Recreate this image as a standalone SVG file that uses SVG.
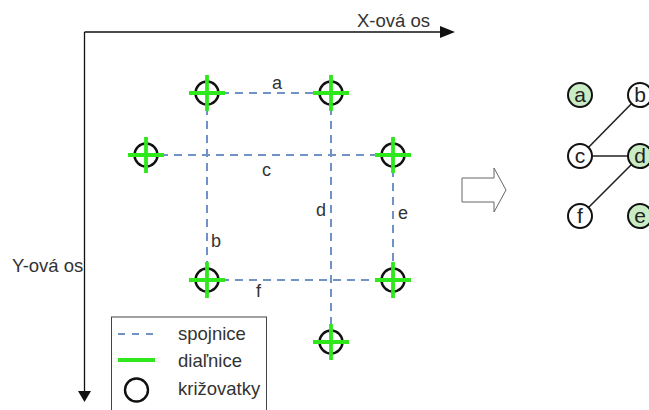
<svg xmlns="http://www.w3.org/2000/svg" width="649" height="410" viewBox="0 0 649 410">
  <style>
    .txt { font-family: "Liberation Sans", Arial, sans-serif; fill: #333; }
    .axis { stroke: #111; stroke-width: 1.3; fill: none; }
    .link { stroke: #7093c6; stroke-width: 2; stroke-dasharray: 8 6; fill: none; }
    .ring { fill: none; stroke: #111; stroke-width: 2.4; }
    .hwy { stroke: #2ee81c; stroke-width: 3.8; fill: none; }
    .gnode { stroke: #111; stroke-width: 2; fill: #fff; }
    .gnode.on { fill: #c9ecc4; }
    .gedge { stroke: #222; stroke-width: 1.6; fill: none; }
    .glabel { font-family: "Liberation Sans", Arial, sans-serif; font-size: 21px; fill: #222; text-anchor: middle; }
  </style>
  <defs>
    <g id="junction">
      <circle r="11.5" class="ring"/>
      <path d="M-18 0H18M0 -18V18" class="hwy"/>
    </g>
  </defs>

  <rect width="649" height="410" fill="#fff"/>

  <!-- axes -->
  <g id="axes">
    <path d="M84.5 32V392M84.5 32H441" class="axis"/>
    <polygon points="440,26 455,32 440,38" fill="#111"/>
    <polygon points="78,391 91,391 84.5,402" fill="#111"/>
    <text class="txt" x="357" y="27" font-size="18.5">X-ová os</text>
    <text class="txt" x="12" y="272" font-size="18.5">Y-ová os</text>
  </g>

  <!-- connecting roads -->
  <g id="connectors">
    <path d="M207 93H331" class="link"/>
    <path d="M207 93V280" class="link"/>
    <path d="M146 155H393" class="link"/>
    <path d="M331 93V342" class="link"/>
    <path d="M393 155V280" class="link"/>
    <path d="M207 280H393" class="link"/>
  </g>

  <!-- road labels -->
  <g id="road-labels" class="txt" font-size="18">
    <text x="272" y="89">a</text>
    <text x="211" y="247">b</text>
    <text x="262" y="176">c</text>
    <text x="316" y="216">d</text>
    <text x="398" y="219">e</text>
    <text x="256" y="297">f</text>
  </g>

  <!-- junctions -->
  <g id="j1"><use href="#junction" x="207" y="93"/></g>
  <g id="j2"><use href="#junction" x="331" y="93"/></g>
  <g id="j3"><use href="#junction" x="146" y="155"/></g>
  <g id="j4"><use href="#junction" x="393" y="155"/></g>
  <g id="j5"><use href="#junction" x="207" y="280"/></g>
  <g id="j6"><use href="#junction" x="393" y="280"/></g>
  <g id="j7"><use href="#junction" x="331" y="342"/></g>

  <!-- legend -->
  <g id="legend">
    <rect x="111.5" y="317" width="155" height="100" fill="#fff" stroke="#444" stroke-width="1"/>
    <path d="M118 334H156" stroke="#7093c6" stroke-width="2" stroke-dasharray="7 7"/>
    <path d="M118 360H155" stroke="#2ee81c" stroke-width="4"/>
    <circle cx="136.5" cy="390" r="11.5" class="ring"/>
    <text class="txt" x="178" y="340" font-size="18.5">spojnice</text>
    <text class="txt" x="178" y="367" font-size="18.5">diaľnice</text>
    <text class="txt" x="178" y="395" font-size="18.5">križovatky</text>
  </g>

  <!-- transform arrow -->
  <g id="transform-arrow">
    <polygon points="462,178 494,178 494,168 506,190 494,212 494,202 462,202" fill="#fff" stroke="#666" stroke-width="1"/>
  </g>

  <!-- conflict graph -->
  <g id="graph-edges">
    <path d="M580 156L640 95" class="gedge"/>
    <path d="M580 156H640" class="gedge" stroke-width="3" stroke="#444"/>
    <path d="M580 216L640 156" class="gedge"/>
  </g>
  <g id="ga"><circle cx="580" cy="95" r="12" class="gnode on"/><text class="glabel" x="580" y="102">a</text></g>
  <g id="gb"><circle cx="640" cy="95" r="12" class="gnode"/><text class="glabel" x="640" y="102">b</text></g>
  <g id="gc"><circle cx="580" cy="156" r="12" class="gnode"/><text class="glabel" x="580" y="163">c</text></g>
  <g id="gd"><circle cx="640" cy="156" r="12" class="gnode on"/><text class="glabel" x="640" y="163">d</text></g>
  <g id="gf"><circle cx="580" cy="216" r="12" class="gnode"/><text class="glabel" x="580" y="223">f</text></g>
  <g id="ge"><circle cx="640" cy="216" r="12" class="gnode on"/><text class="glabel" x="640" y="223">e</text></g>
</svg>
